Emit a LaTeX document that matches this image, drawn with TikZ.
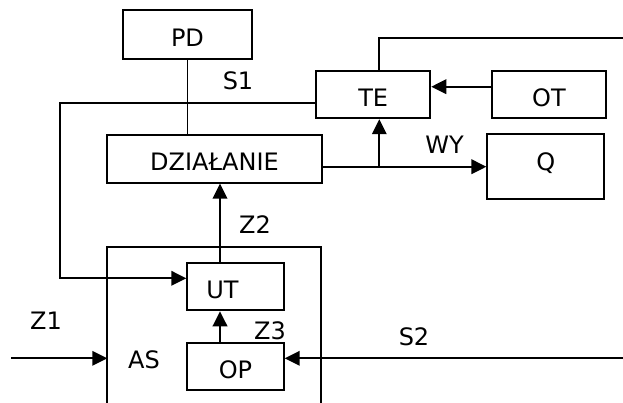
\documentclass[tikz,border=0pt]{standalone}
\usepackage{fontspec}
\setmainfont{DejaVu Sans}
\usetikzlibrary{arrows.meta}
\begin{document}
\begin{tikzpicture}[x=1pt,y=-1pt,
  line width=1.9pt,
  font=\fontsize{24}{28}\selectfont,
  blk/.style={draw,rectangle,inner sep=0pt,text height=23.5pt,text depth=0pt},
  lbl/.style={inner sep=0pt,text height=17.5pt,text depth=0pt,anchor=center},
  arr/.style={-{Triangle[length=15pt,width=14.5pt]}}]
\useasboundingbox (0,0) rectangle (623,403);
% blocks
\node[blk,minimum width=128.4pt,minimum height=49pt] (PD) at (187.5,34.5) {PD};
\node[blk,minimum width=214.4pt,minimum height=48pt] (DZ) at (214.5,158.7) {DZIAŁANIE};
\node[blk,minimum width=114.3pt,minimum height=47.6pt] (TE) at (373.2,94.5) {TE};
\node[blk,minimum width=114.6pt,minimum height=47.6pt] (OT) at (549,94.5) {OT};
\node[blk,minimum width=116.7pt,minimum height=64.7pt,text height=17.5pt,text depth=10pt] (Q) at (545.7,166.7) {Q};
\node[blk,minimum width=96.4pt,minimum height=47.6pt] (UT) at (235.5,286.5) {UT\rule{26pt}{0pt}};
\node[blk,minimum width=96.4pt,minimum height=47.6pt] (OP) at (235.5,366.5) {OP};
% AS enclosure (open at bottom)
\coordinate (asbl) at (107.3,405);
\coordinate (astl) at (107.3,246.7);
\coordinate (astr) at (321,246.7);
\coordinate (asbr) at (321,405);
\draw (asbl) -- (astl) -- (astr) -- (asbr);
% labels
\node[lbl] (S1) at (238,80.5) {S1};
\node[lbl] (WY) at (444.5,144.5) {WY};
\node[lbl] (Z2) at (255,225) {Z2};
\node[lbl] (Z1) at (46,321) {Z1};
\node[lbl] (Z3) at (270,330.5) {Z3};
\node[lbl] (AS) at (144,360) {AS};
\node[lbl] (S2) at (414,337) {S2};
% free ends
\coordinate (lk) at (59.8,103.3);
\coordinate (rt) at (625,38.3);
\coordinate (br) at (379.3,166.7);
\coordinate (s2in) at (625,358.3);
\coordinate (z1in) at (11,358.3);
\coordinate (z1end) at (107.3,358.3);
% connectors
\draw (PD.south) -- (PD.south |- DZ.north);
\draw[arr] ([yshift=-8.8pt]TE.west) -- (lk) |- ([yshift=8.2pt]UT.west);
\draw ([xshift=6.1pt]TE.north) |- (rt);
\draw[arr] ([yshift=7.8pt]OT.west) -- ([yshift=7.8pt]TE.east);
\draw[arr] ([yshift=-8pt]DZ.east) -- (Q.west);
\draw[arr] (br) -- (br |- TE.south);
\draw[arr] ([xshift=-15.5pt]UT.north) -- ([xshift=-15.5pt]UT.north |- DZ.south);
\draw[arr] ([xshift=-15.5pt]OP.north) -- ([xshift=-15.5pt]UT.south);
\draw[arr] (s2in) -- ([yshift=8.2pt]OP.east);
\draw[arr] (z1in) -- (z1end);
\end{tikzpicture}
\end{document}
